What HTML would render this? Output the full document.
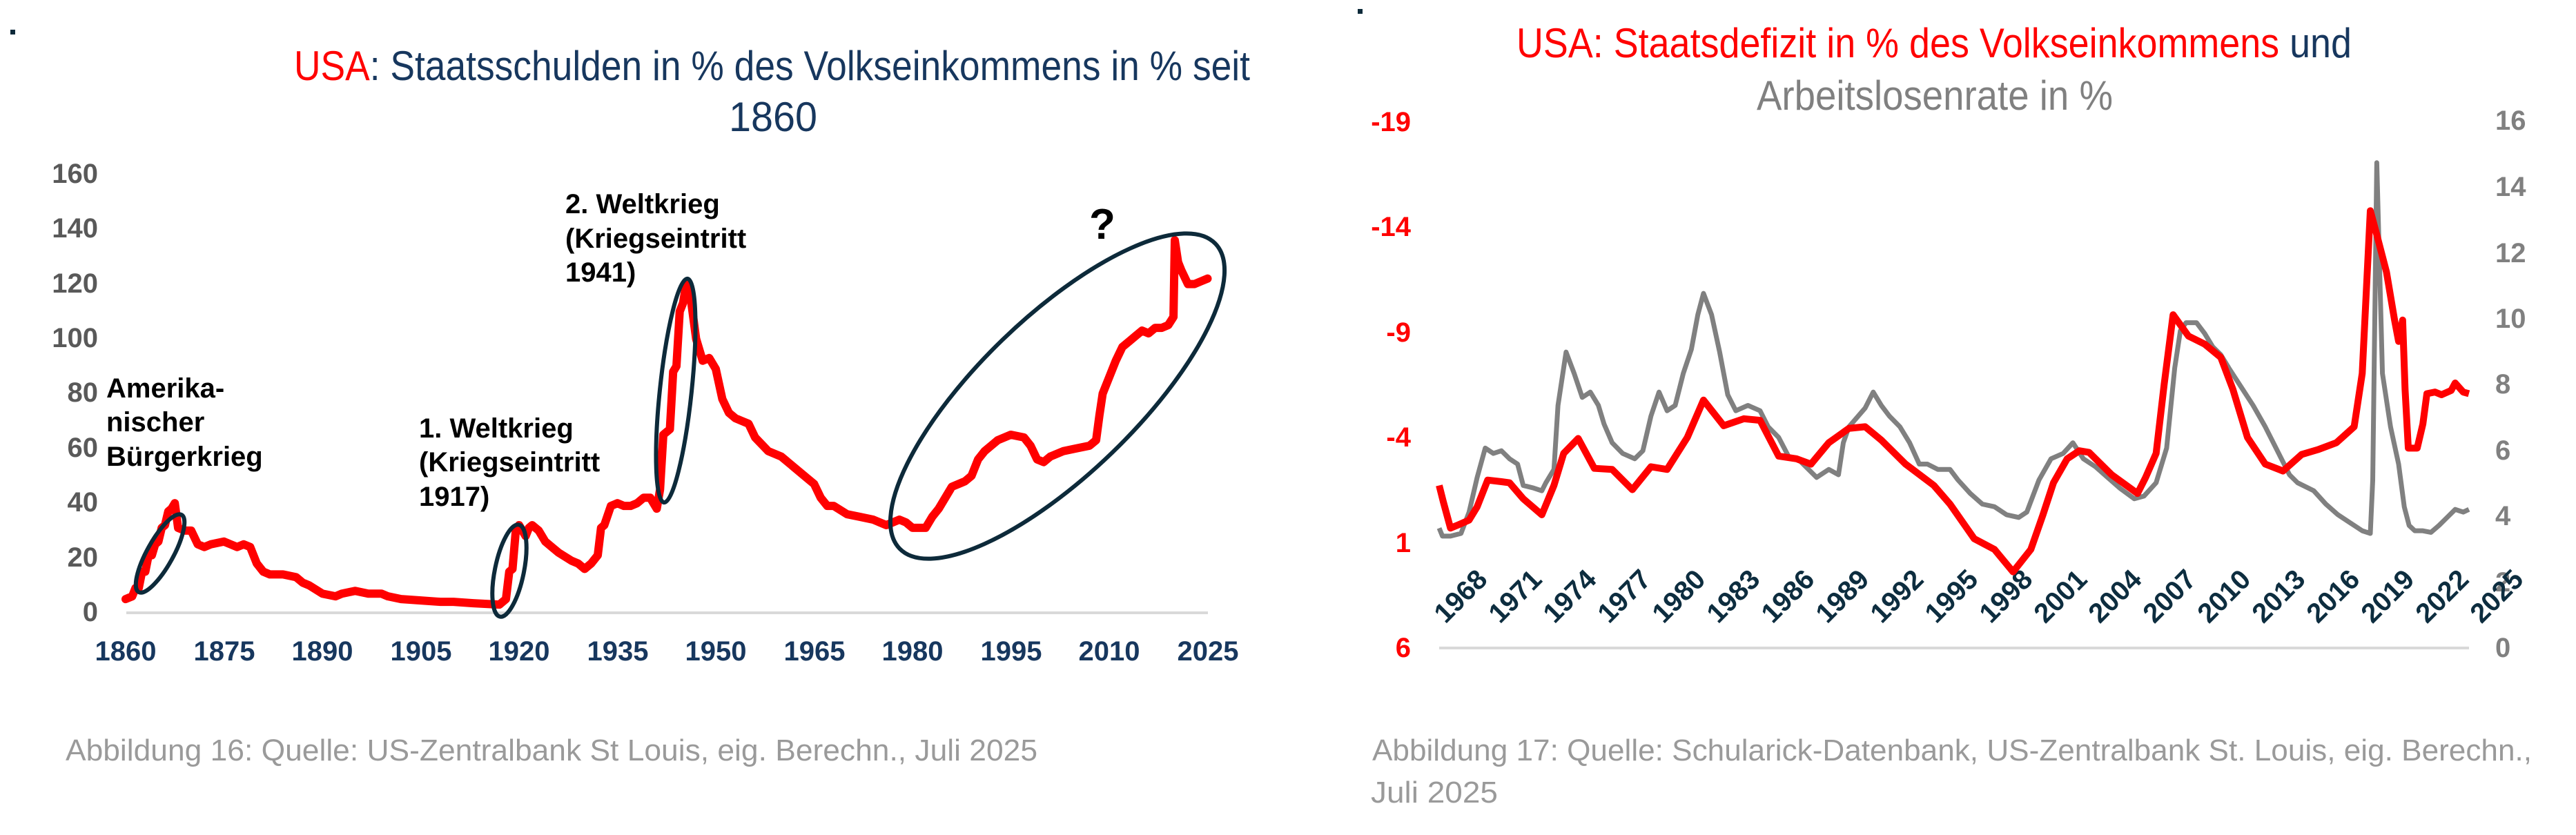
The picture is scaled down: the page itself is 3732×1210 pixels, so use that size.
<!DOCTYPE html>
<html><head><meta charset="utf-8"><style>
html,body{margin:0;padding:0;background:#fff;}
svg{display:block;}
text{font-family:"Liberation Sans",sans-serif;}
</style></head><body>
<svg width="3732" height="1210" viewBox="0 0 3732 1210" xmlns="http://www.w3.org/2000/svg">
<rect width="3732" height="1210" fill="#fff"/>
<rect x="15" y="43" width="7" height="7" fill="#0d2a3a"/>
<rect x="1967" y="13" width="7" height="7" fill="#0d2a3a"/>

<!-- LEFT CHART -->
<text x="426" y="116" font-size="60" textLength="1385" lengthAdjust="spacingAndGlyphs" fill="#17375e"><tspan fill="#ff0000">USA</tspan>: Staatsschulden in % des Volkseinkommens in % seit</text>
<text x="1056" y="190" font-size="60" textLength="128" lengthAdjust="spacingAndGlyphs" fill="#17375e">1860</text>

<line x1="183" y1="888" x2="1750" y2="888" stroke="#d9d9d9" stroke-width="4"/>
<g font-size="40" font-weight="bold" fill="#595959" text-anchor="end">
<text x="142" y="900">0</text><text x="142" y="821">20</text><text x="142" y="741">40</text>
<text x="142" y="662">60</text><text x="142" y="582">80</text><text x="142" y="503">100</text>
<text x="142" y="424">120</text><text x="142" y="344">140</text><text x="142" y="265">160</text>
</g>
<g font-size="40" font-weight="bold" fill="#17375e" text-anchor="middle">
<text x="182" y="957">1860</text><text x="325" y="957">1875</text><text x="467" y="957">1890</text>
<text x="610" y="957">1905</text><text x="752" y="957">1920</text><text x="895" y="957">1935</text>
<text x="1037" y="957">1950</text><text x="1180" y="957">1965</text><text x="1322" y="957">1980</text>
<text x="1465" y="957">1995</text><text x="1607" y="957">2010</text><text x="1750" y="957">2025</text>
</g>
<g transform="translate(-17488,888) scale(9.5,-3.97)">
<polyline vector-effect="non-scaling-stroke" fill="none" stroke="#ff0000" stroke-width="12" stroke-linejoin="round" stroke-linecap="round"
points="1860,5 1861,6 1861.5,9 1862,9 1862.5,15 1863,15 1863.5,21 1864,21 1864.5,25 1865,26 1865.5,31 1866,32 1866.5,37 1867,38 1867.5,40 1868,31 1869,30 1870,30 1871,25 1872,24 1873,25 1875,26 1876,25 1877,24 1878,25 1879,24 1880,18 1881,15 1882,14 1884,14 1886,13 1887,11 1888,10 1890,7 1892,6 1893,7 1895,8 1897,7 1899,7 1900,6 1902,5 1905,4.5 1908,4 1910,4 1913,3.5 1917,3 1918,5 1918.5,15 1919,16 1919.5,30 1920,32 1921,28 1921.5,31 1922,32 1923,30 1924,26 1925,24 1926,22 1928,19 1929,18 1930,16 1931,18 1932,21 1932.5,31 1933,32 1934,39 1935,40 1936,39 1937,39 1938,40 1939,42 1940,42 1941,38 1941.5,45 1942,65 1943,67 1943.5,88 1944,90 1944.5,110 1945,113 1945.5,120 1946,118 1947,100 1948,92 1949,93 1950,89 1951,78 1952,73 1953,71 1954,70 1955,69 1956,64 1958,59 1960,57 1962,53 1964,49 1965,47 1966,42 1967,39 1968,39 1970,36 1972,35 1974,34 1976,32 1978,34 1979,33 1980,31 1981,31 1982,31 1983,35 1984,38 1985,42 1986,46 1987,47 1988,48 1989,50 1990,56 1991,59 1992,61 1993,63 1995,65 1997,64 1998,61 1999,56 2000,55 2001,57 2003,59 2005,60 2007,61 2008,63 2008.5,72 2009,80 2010,86 2011,92 2012,97 2013,99 2014,101 2015,103 2016,102 2017,104 2018,104 2019,105 2019.8,108 2020,136 2020.5,128 2021,125 2022,120 2023,120 2024,121 2025,122"/>
</g>
<g fill="none" stroke="#0d2a3a" stroke-width="6">
<ellipse cx="232" cy="802" rx="19" ry="64" transform="rotate(29 232 802)"/>
<ellipse cx="738" cy="827" rx="21" ry="68" transform="rotate(11.6 738 827)"/>
<ellipse cx="979" cy="566" rx="23" ry="163" transform="rotate(6 979 566)"/>
<ellipse cx="1532" cy="574" rx="114" ry="318" transform="rotate(46 1532 574)"/>
</g>
<g font-size="40" font-weight="bold" fill="#000">
<text x="154" y="576">Amerika-</text><text x="154" y="625">nischer</text><text x="154" y="675">Bürgerkrieg</text>
<text x="607" y="634">1. Weltkrieg</text><text x="607" y="683">(Kriegseintritt</text><text x="607" y="733">1917)</text>
<text x="819" y="309">2. Weltkrieg</text><text x="819" y="359">(Kriegseintritt</text><text x="819" y="408">1941)</text>
<text x="1578" y="346" font-size="62">?</text>
</g>
<text x="95" y="1102" font-size="44" fill="#9a9a9a" textLength="1408" lengthAdjust="spacingAndGlyphs">Abbildung 16: Quelle: US-Zentralbank St Louis, eig. Berechn., Juli 2025</text>

<!-- RIGHT CHART -->
<text x="2197" y="83" font-size="60" textLength="1210" lengthAdjust="spacingAndGlyphs" fill="#ff0000">USA: Staatsdefizit in % des Volkseinkommens <tspan fill="#17375e">und</tspan></text>
<text x="2545" y="159" font-size="60" textLength="516" lengthAdjust="spacingAndGlyphs" fill="#808080">Arbeitslosenrate in %</text>

<line x1="2085" y1="939" x2="3577" y2="939" stroke="#d9d9d9" stroke-width="4"/>
<g font-size="40" font-weight="bold" fill="#ff0000" text-anchor="end">
<text x="2044" y="190">-19</text><text x="2044" y="342">-14</text><text x="2044" y="495">-9</text>
<text x="2044" y="647">-4</text><text x="2044" y="800">1</text><text x="2044" y="952">6</text>
</g>
<g font-size="40" font-weight="bold" fill="#808080">
<text x="3615" y="188">16</text><text x="3615" y="284">14</text><text x="3615" y="380">12</text>
<text x="3615" y="475">10</text><text x="3615" y="570">8</text><text x="3615" y="666">6</text>
<text x="3615" y="761">4</text><text x="3615" y="857">2</text><text x="3615" y="952">0</text>
</g>
<g font-size="40" font-weight="bold" fill="#0d2d3f" text-anchor="end">
<text transform="translate(2157,842) rotate(-45)">1968</text>
<text transform="translate(2236,842) rotate(-45)">1971</text>
<text transform="translate(2315,842) rotate(-45)">1974</text>
<text transform="translate(2394,842) rotate(-45)">1977</text>
<text transform="translate(2473,842) rotate(-45)">1980</text>
<text transform="translate(2552,842) rotate(-45)">1983</text>
<text transform="translate(2631,842) rotate(-45)">1986</text>
<text transform="translate(2710,842) rotate(-45)">1989</text>
<text transform="translate(2789,842) rotate(-45)">1992</text>
<text transform="translate(2868,842) rotate(-45)">1995</text>
<text transform="translate(2947,842) rotate(-45)">1998</text>
<text transform="translate(3026,842) rotate(-45)">2001</text>
<text transform="translate(3105,842) rotate(-45)">2004</text>
<text transform="translate(3184,842) rotate(-45)">2007</text>
<text transform="translate(3263,842) rotate(-45)">2010</text>
<text transform="translate(3342,842) rotate(-45)">2013</text>
<text transform="translate(3421,842) rotate(-45)">2016</text>
<text transform="translate(3500,842) rotate(-45)">2019</text>
<text transform="translate(3579,842) rotate(-45)">2022</text>
<text transform="translate(3658,842) rotate(-45)">2025</text>
</g>
<g transform="translate(1900,0) scale(1.171,0.773)">
<polyline vector-effect="non-scaling-stroke" fill="none" stroke="#808080" stroke-width="7" stroke-linejoin="round"
points="158,990 162,1005 172,1005 185,1000 195,960 205,895 215,840 225,850 235,845 245,860 255,870 262,910 275,915 285,920 290,905 300,880 305,760 315,660 325,700 335,745 345,735 355,760 362,795 372,830 385,850 400,860 410,845 420,780 430,735 440,770 450,760 460,700 470,655 478,590 485,550 495,590 505,660 515,740 525,770 540,760 555,770 565,800 578,820 590,855 605,865 615,880 625,895 640,880 652,890 658,830 665,800 685,765 695,735 705,760 715,780 728,800 740,830 752,870 762,870 775,880 790,880 800,900 815,925 830,945 845,950 860,965 875,970 885,960 900,900 915,860 930,850 942,830 955,860 970,875 985,895 1000,915 1018,935 1030,930 1045,905 1058,840 1068,690 1075,620 1082,605 1095,605 1105,625 1115,650 1125,665 1135,690 1150,725 1165,760 1180,800 1195,845 1210,890 1220,905 1240,920 1255,945 1270,965 1285,980 1300,995 1310,1000 1313,900 1318,305 1325,700 1335,800 1345,870 1352,950 1358,985 1365,995 1375,995 1385,998 1395,985 1405,970 1415,955 1425,960 1432,955"/>
<polyline vector-effect="non-scaling-stroke" fill="none" stroke="#ff0000" stroke-width="10" stroke-linejoin="round"
points="158,910 163,940 172,990 180,985 195,975 205,950 218,900 235,903 245,905 262,935 285,965 300,910 312,850 330,822 350,878 372,880 397,918 420,875 440,880 465,820 485,750 510,798 535,785 555,788 578,855 600,860 618,870 640,830 665,803 685,800 705,825 735,870 770,910 790,945 820,1010 845,1030 868,1072 890,1030 905,965 918,905 935,860 950,845 962,848 990,890 1022,925 1032,895 1045,850 1055,720 1066,590 1085,630 1105,645 1125,670 1140,730 1158,820 1180,870 1202,883 1225,852 1245,843 1268,830 1290,800 1300,700 1310,395 1318,440 1330,510 1340,600 1345,640 1350,600 1353,730 1357,840 1368,840 1375,795 1380,738 1390,735 1398,740 1410,732 1415,718 1425,735 1432,738"/>
</g>
<text x="1988" y="1102" font-size="44" fill="#9a9a9a" textLength="1680" lengthAdjust="spacingAndGlyphs">Abbildung 17: Quelle: Schularick-Datenbank, US-Zentralbank St. Louis, eig. Berechn.,</text>
<text x="1986" y="1163" font-size="44" fill="#9a9a9a" textLength="184" lengthAdjust="spacingAndGlyphs">Juli 2025</text>
</svg>
</body></html>
